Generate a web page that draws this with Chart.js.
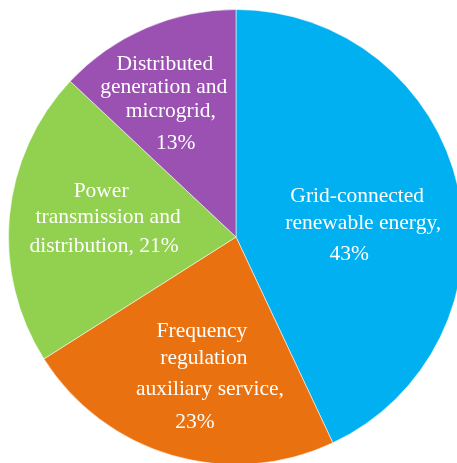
<!DOCTYPE html>
<html>
<head>
<meta charset="utf-8">
<script src="https://cdn.jsdelivr.net/npm/chart.js@4/dist/chart.umd.min.js"></script>
<style>
  html, body { margin: 0; padding: 0; background: #ffffff; overflow: hidden; width: 457px; height: 463px; }
  #pieWrap { position: absolute; left: 8px; top: 9px; width: 456px; height: 456px; }
</style>
</head>
<body>
<div id="pieWrap"><canvas id="pieChart" width="456" height="456"></canvas></div>
<script>
let categories = [
    "Grid-connected renewable energy",
    "Frequency regulation auxiliary service",
    "Power transmission and distribution",
    "Distributed generation and microgrid"
];
let shares = [43, 23, 21, 13]; // percent
let sliceColors = ["#00B0F0", "#E97110", "#92D050", "#9A51B1"];

// wrapped label text per slice; the share is appended from the data
let labelLines = [
    ["Grid-connected", "renewable energy,", "{v}"],
    ["Frequency", "regulation", "auxiliary service,", "{v}"],
    ["Power", "transmission and", "distribution, {v}"],
    ["Distributed", "generation and", "microgrid,", "{v}"]
];

// nudges for each line [dx, dy] from the slice anchor point
let lineOffsets = [
    [[-12, -5], [-6, 22], [-20, 53]],
    [[4, -31], [6, -4], [12, 27], [-3, 60]],
    [[1, -27], [8, -1], [4, 28]],
    [[-17, -42], [-18, -19], [-11, 5], [-6, 37]]
];

// writes the wrapped labels inside each slice
const sliceLabels = {
    id: "sliceLabels",
    afterDatasetsDraw(chart) {
        let ctx = chart.ctx;
        let meta = chart.getDatasetMeta(0);
        ctx.save();
        ctx.fillStyle = "#ffffff";
        ctx.font = "21.5px 'Liberation Serif', 'Times New Roman', serif";
        ctx.textAlign = "center";
        ctx.textBaseline = "alphabetic";
        meta.data.forEach((arc, i) => {
            let mid = (arc.startAngle + arc.endAngle) / 2;
            let r = arc.outerRadius * 0.6;
            let ax = arc.x + Math.cos(mid) * r;
            let ay = arc.y + Math.sin(mid) * r;
            let value = chart.data.datasets[0].data[i] + "%";
            labelLines[i].forEach((line, j) => {
                let off = lineOffsets[i][j];
                ctx.fillText(line.replace("{v}", value), ax + off[0], ay + off[1]);
            });
        });
        ctx.restore();
    }
};

document.addEventListener("DOMContentLoaded", function () {
    let ctx = document.getElementById("pieChart").getContext("2d");

    new Chart(ctx, {
        type: "pie",
        data: {
            labels: categories,
            datasets: [{
                data: shares,
                backgroundColor: sliceColors,
                borderColor: "rgba(255,255,255,0.55)",
                borderWidth: 1
            }]
        },
        options: {
            responsive: false,
            animation: false,
            layout: { padding: 0 },
            plugins: {
                legend: { display: false },
                tooltip: { enabled: false }
            }
        },
        plugins: [sliceLabels]
    });
});
</script>
</body>
</html>
